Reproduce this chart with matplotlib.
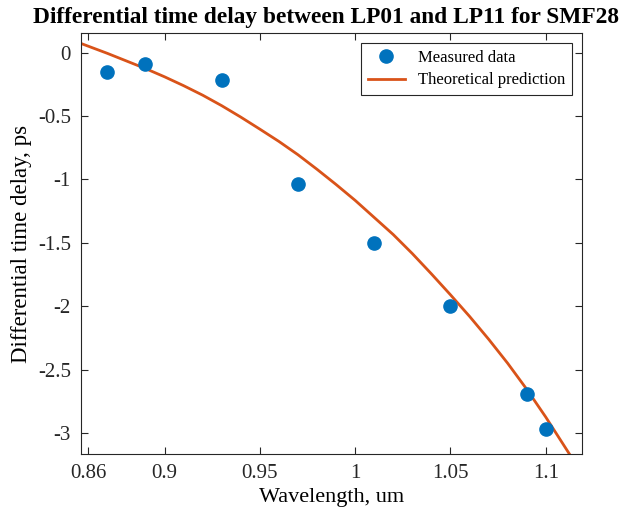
"""Differential time delay between LP01 and LP11 modes for SMF28."""

import matplotlib
matplotlib.use("Agg")
import matplotlib.pyplot as plt

# measured points
wavelength_meas = [0.87, 0.89, 0.93, 0.97, 1.01, 1.05, 1.09, 1.10]
delay_meas = [-0.15, -0.09, -0.215, -1.035, -1.50, -2.00, -2.695, -2.97]

# theoretical curve
wavelength_theory = [0.856, 0.87, 0.88, 0.89, 0.90, 0.91, 0.92, 0.93, 0.94, 0.95,
                     0.96, 0.97, 0.98, 0.99, 1.00, 1.01, 1.02, 1.03, 1.04, 1.05,
                     1.06, 1.07, 1.08, 1.09, 1.10, 1.113]
delay_theory = [0.074, -0.005, -0.065, -0.125, -0.19, -0.26, -0.335, -0.418, -0.508, -0.603,
                -0.70, -0.805, -0.92, -1.04, -1.165, -1.30, -1.435, -1.585, -1.745, -1.91,
                -2.08, -2.26, -2.45, -2.655, -2.875, -3.18]

xticks = [0.86, 0.9, 0.95, 1.0, 1.05, 1.1]
xtick_labels = ["0.86", "0.9", "0.95", "1", "1.05", "1.1"]
yticks = [0, -0.5, -1, -1.5, -2, -2.5, -3]
ytick_labels = ["0", "-0.5", "-1", "-1.5", "-2", "-2.5", "-3"]

plt.rcParams["font.family"] = ["Liberation Serif", "DejaVu Serif"]
AX_COLOR = "#262626"

fig = plt.figure(figsize=(6.27, 5.17), dpi=100)
ax = fig.add_axes([0.1287, 0.1219, 0.7995, 0.8141])

ax.plot(wavelength_meas, delay_meas, "o", color="#0072BD", markersize=9.5,
        linestyle="", label="Measured data", zorder=3)
ax.plot(wavelength_theory, delay_theory, color="#D95319", linewidth=2.0,
        label="Theoretical prediction", zorder=2)

ax.set_xlim(0.856, 1.119)
ax.set_ylim(-3.166, 0.155)
ax.set_xticks(xticks)
ax.set_xticklabels(xtick_labels)
ax.set_yticks(yticks)
ax.set_yticklabels(ytick_labels)
ax.tick_params(direction="in", top=True, right=True, length=5, width=0.8,
               colors=AX_COLOR, labelsize=15, pad=7)
for spine in ax.spines.values():
    spine.set_color(AX_COLOR)
    spine.set_linewidth(0.8)

ax.set_xlabel("Wavelength, um", fontsize=16, color="black", labelpad=4)
ax.set_ylabel("Differential time delay, ps", fontsize=16.5, color="black", labelpad=4)
fig.text(0.52, 0.966, "Differential time delay between LP01 and LP11 for SMF28",
         fontsize=16.8, fontweight="bold", ha="center", va="center")

leg = ax.legend(loc="upper right", fontsize=12, frameon=True, fancybox=False,
                edgecolor=AX_COLOR, framealpha=1, borderaxespad=0.6,
                handlelength=2.2, borderpad=0.4, labelspacing=0.4)
leg.get_frame().set_linewidth(0.8)

fig.savefig("out.png", dpi=100)
plt.close(fig)
